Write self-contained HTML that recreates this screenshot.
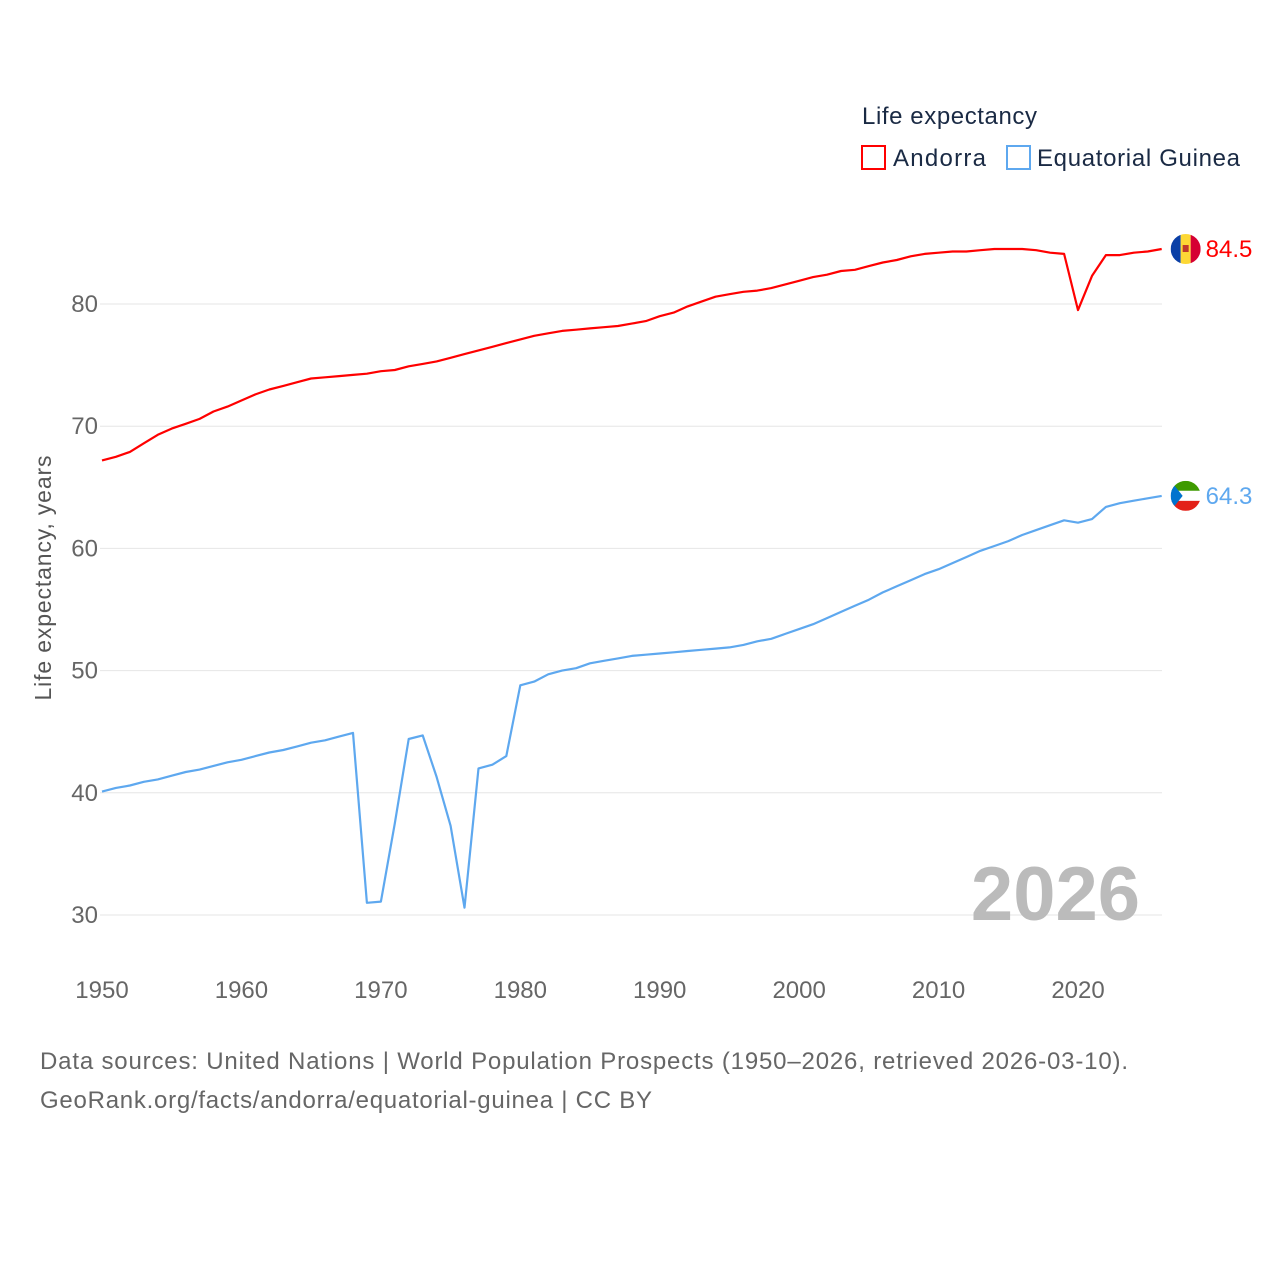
<!DOCTYPE html>
<html><head><meta charset="utf-8"><style>
body{margin:0;background:#fff;font-family:"Liberation Sans",sans-serif}
svg text{font-family:"Liberation Sans",sans-serif}
</style></head><body>
<svg width="1280" height="1280" id="chart">
<text x="862" y="124" font-size="24" fill="#1a2a44" textLength="175">Life expectancy</text>
<g><rect x="862" y="146" width="23" height="23" fill="none" stroke="#ff0000" stroke-width="2"/><text x="893" y="166" font-size="24" fill="#1a2a44" textLength="93">Andorra</text></g>
<g><rect x="1007" y="146" width="23" height="23" fill="none" stroke="#5ea8ef" stroke-width="2"/><text x="1037" y="166" font-size="24" fill="#1a2a44" textLength="203">Equatorial Guinea</text></g>
<g id="grid"></g>
<g id="yticks"></g>
<g id="xticks"></g>
<text transform="translate(51,578) rotate(-90)" text-anchor="middle" font-size="23" fill="#555" textLength="245">Life expectancy, years</text>
<text x="1140" y="920" text-anchor="end" font-size="76" font-weight="bold" fill="#bbb">2026</text>
<g id="series"></g>
<text x="40" y="1069" font-size="24" fill="#666" textLength="1088">Data sources: United Nations | World Population Prospects (1950–2026, retrieved 2026-03-10).</text>
<text x="40" y="1108" font-size="24" fill="#666" textLength="612">GeoRank.org/facts/andorra/equatorial-guinea | CC BY</text>
</svg>
<script>
const startYear = 1950;
const andorra = [67.2,67.5,67.9,68.6,69.3,69.8,70.2,70.6,71.2,71.6,72.1,72.6,73.0,73.3,73.6,73.9,74.0,74.1,74.2,74.3,74.5,74.6,74.9,75.1,75.3,75.6,75.9,76.2,76.5,76.8,77.1,77.4,77.6,77.8,77.9,78.0,78.1,78.2,78.4,78.6,79.0,79.3,79.8,80.2,80.6,80.8,81.0,81.1,81.3,81.6,81.9,82.2,82.4,82.7,82.8,83.1,83.4,83.6,83.9,84.1,84.2,84.3,84.3,84.4,84.5,84.5,84.5,84.4,84.2,84.1,79.5,82.3,84.0,84.0,84.2,84.3,84.5];
const eqGuinea = [40.1,40.4,40.6,40.9,41.1,41.4,41.7,41.9,42.2,42.5,42.7,43.0,43.3,43.5,43.8,44.1,44.3,44.6,44.9,31.0,31.1,37.5,44.4,44.7,41.3,37.3,30.6,42.0,42.3,43.0,48.8,49.1,49.7,50.0,50.2,50.6,50.8,51.0,51.2,51.3,51.4,51.5,51.6,51.7,51.8,51.9,52.1,52.4,52.6,53.0,53.4,53.8,54.3,54.8,55.3,55.8,56.4,56.9,57.4,57.9,58.3,58.8,59.3,59.8,60.2,60.6,61.1,61.5,61.9,62.3,62.1,62.4,63.4,63.7,63.9,64.1,64.3];
const yTicks = [30,40,50,60,70,80];
const xTicks = [1950,1960,1970,1980,1990,2000,2010,2020];
const NS='http://www.w3.org/2000/svg';
const xS = yr => 102 + (yr-1950)*13.943;
const yS = v => 304 + (80-v)*12.22;
function mk(tag, attrs, parent){const e=document.createElementNS(NS,tag);for(const k in attrs)e.setAttribute(k,attrs[k]);parent.appendChild(e);return e;}
const grid=document.getElementById('grid'), yt=document.getElementById('yticks'), xt=document.getElementById('xticks'), ser=document.getElementById('series');
yTicks.forEach(v=>{
  const l=mk('line',{x1:100,x2:1162,y1:yS(v),y2:yS(v),stroke:'#e6e6e6','stroke-width':1},grid);
  
  
  const t=mk('text',{x:98,y:yS(v)+8,'text-anchor':'end','font-size':24,fill:'#666'},yt);
  t.textContent=v;
  
  
});
xTicks.forEach(yr=>{
  const t=mk('text',{x:xS(yr),y:998,'text-anchor':'middle','font-size':24,fill:'#666'},xt);
  t.textContent=yr;
  
  
});
function drawSeries(data,color,name){
  const pts=data.map((v,i)=>xS(startYear+i).toFixed(1)+','+yS(v).toFixed(1)).join(' ');
  const p=mk('polyline',{points:pts,fill:'none',stroke:color,'stroke-width':2.2,'stroke-linejoin':'round'},ser);
  
  
  const last=data[data.length-1], lx=xS(startYear+data.length-1), ly=yS(last);
  const t=mk('text',{x:lx+44,y:ly+8,'font-size':24,fill:color},ser);
  t.textContent=last.toFixed(1);
  
  
  return [lx+24,ly];
}
const [ax,ay]=drawSeries(andorra,'#ff0000','andorra');
const [ex,ey]=drawSeries(eqGuinea,'#5ea8ef','equatorial-guinea');
let g=mk('g',{},ser);


let cp=mk('clipPath',{id:'ca'},g);mk('circle',{cx:ax,cy:ay,r:15},cp);
let gg=mk('g',{'clip-path':'url(#ca)'},g);
mk('rect',{x:ax-15,y:ay-15,width:10,height:30,fill:'#0a3fa6'},gg);
mk('rect',{x:ax-5,y:ay-15,width:10,height:30,fill:'#fdd835'},gg);
mk('rect',{x:ax+5,y:ay-15,width:10,height:30,fill:'#d50032'},gg);
mk('rect',{x:ax-3,y:ay-4,width:6,height:7,fill:'#c0392b'},gg);
g=mk('g',{},ser);


cp=mk('clipPath',{id:'ce'},g);mk('circle',{cx:ex,cy:ey,r:15},cp);
gg=mk('g',{'clip-path':'url(#ce)'},g);
mk('rect',{x:ex-15,y:ey-15,width:30,height:10,fill:'#3e9a00'},gg);
mk('rect',{x:ex-15,y:ey-5,width:30,height:10,fill:'#fff'},gg);
mk('rect',{x:ex-15,y:ey+5,width:30,height:10,fill:'#e32118'},gg);
mk('polygon',{points:(ex-15)+','+(ey-15)+' '+(ex-3)+','+ey+' '+(ex-15)+','+(ey+15),fill:'#0073ce'},gg);
</script>
</body></html>
